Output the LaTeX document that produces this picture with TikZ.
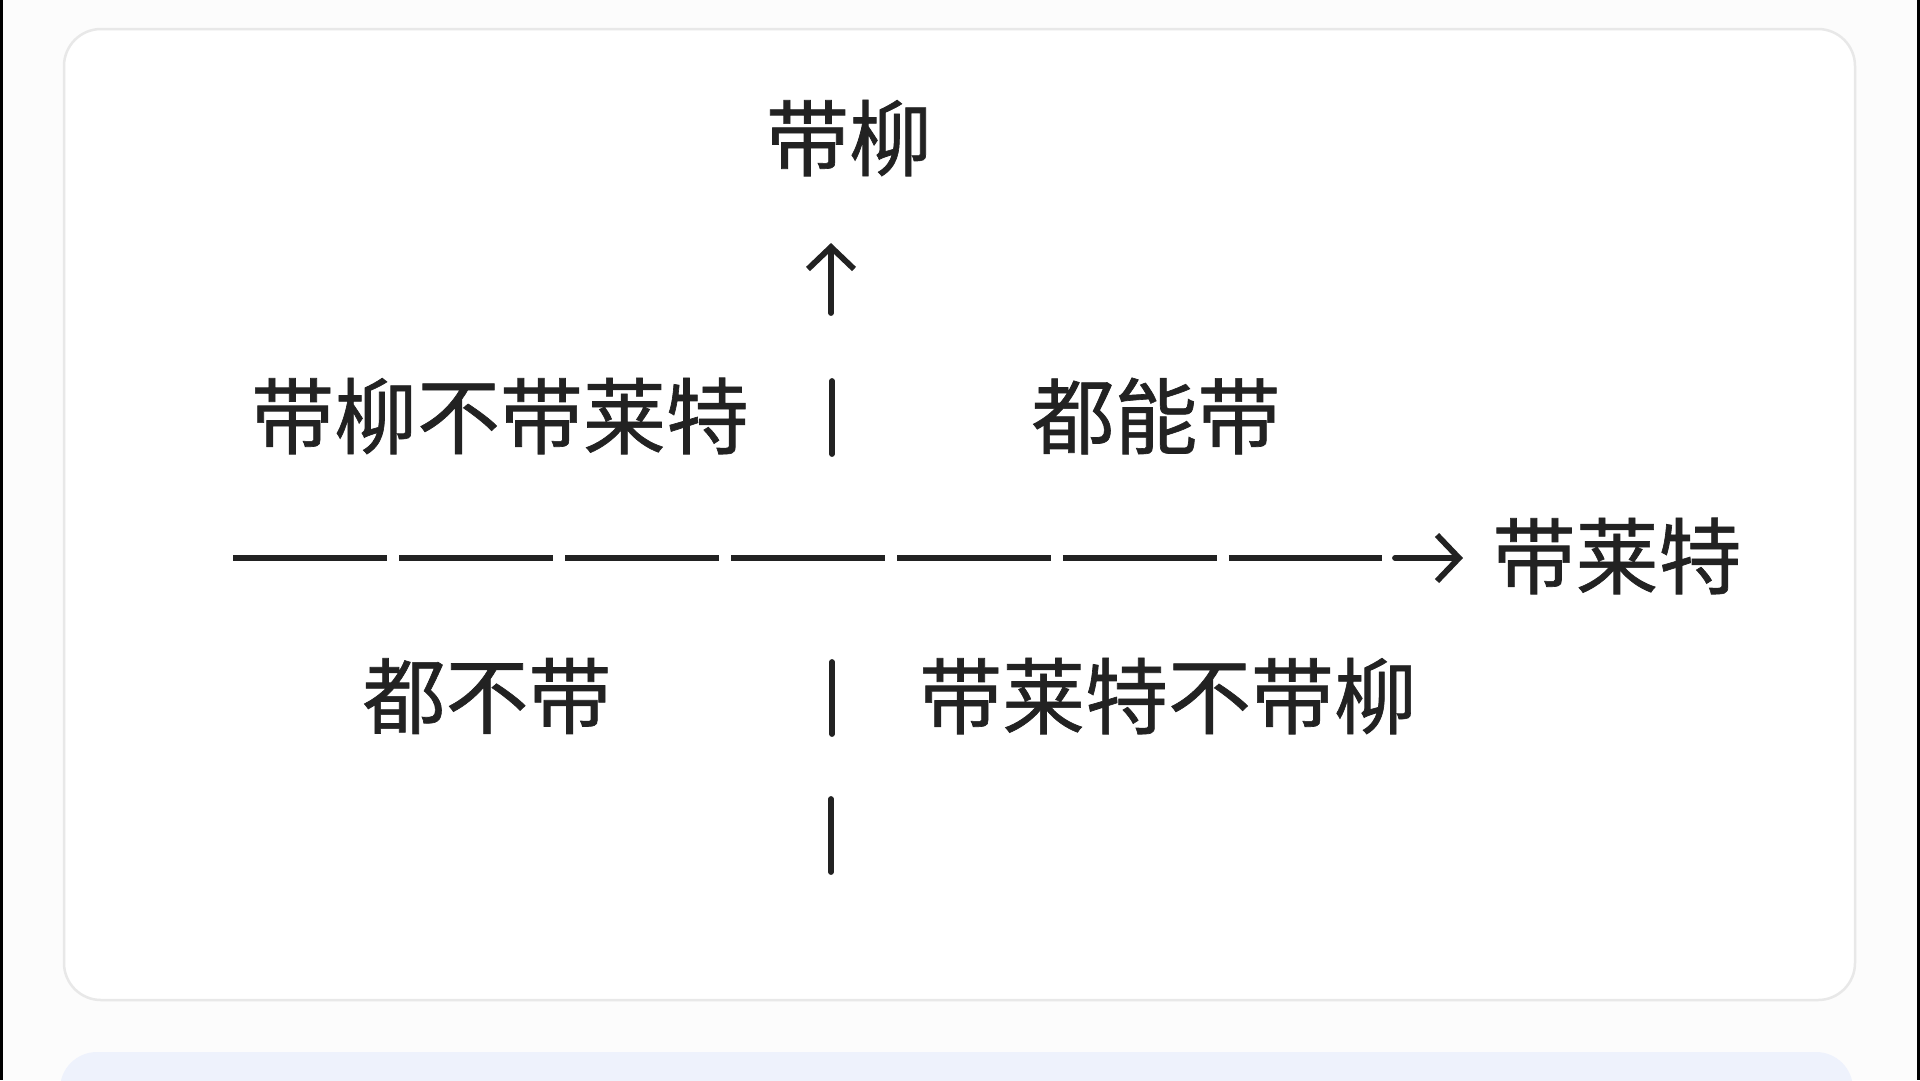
\documentclass[tikz,border=0pt]{standalone}
\usepackage{fontspec}
\newfontfamily\cjk[FakeBold=0.8]{Noto Sans CJK SC}
\usetikzlibrary{arrows.meta}

\definecolor{pagebg}{HTML}{FCFCFC}
\definecolor{cardline}{HTML}{E8E8E8}
\definecolor{nextcard}{HTML}{EEF2FC}
\definecolor{ink}{HTML}{222222}

\begin{document}
\begin{tikzpicture}[
    x=0.1mm, y=-0.1mm,
    every node/.style={font=\cjk\fontsize{23.6pt}{28pt}\selectfont, text=ink},
    card/.style={fill=white, draw=cardline, line width=0.25mm, rounded corners=3.7mm},
    bar/.style={draw=ink, line width=1.65pt, line cap=round},
    axis/.style={draw=ink, line width=1.65pt, dash pattern=on 15.4mm off 1.2mm},
    tip/.style={-{Straight Barb[length=2.2mm, width=4.6mm, line width=1.65pt]}}
]

% Page and cards
\useasboundingbox[fill=pagebg] (0,0) rectangle (1920,1080);
\clip (0,0) rectangle (1920,1080);
\fill[black] (0,0) rectangle (3,1080);
\fill[black] (1917,0) rectangle (1920,1080);
\draw[card] (64,29) rectangle (1855,1000);
\fill[nextcard, rounded corners=3.7mm] (60,1052) rectangle (1853,1130);

% Labels
\node (top) at (849,138) {带柳};
\node (q2) at (500,416) {带柳不带莱特};
\node (q1) at (1156,416) {都能带};
\node (right) at (1617,556) {带莱特};
\node (q3) at (487,696) {都不带};
\node (q4) at (1168,696) {带莱特不带柳};

% Axes
\coordinate (xstart) at (233,558);
\coordinate (xmid) at (1382,558);
\coordinate (xhead) at (1395,558);
\coordinate (xend) at (1463,558);
\draw[axis] (xstart) -- (xmid);
\draw[bar, tip] (xhead) -- (xend);

\coordinate (ytail) at (831,313);
\coordinate (ytip) at (831,243);
\draw[bar, tip] (ytail) -- (ytip);
\draw[bar] (832,381) -- (832,454);
\draw[bar] (832,662) -- (832,734);
\draw[bar] (831,799) -- (831,872);

\end{tikzpicture}
\end{document}
